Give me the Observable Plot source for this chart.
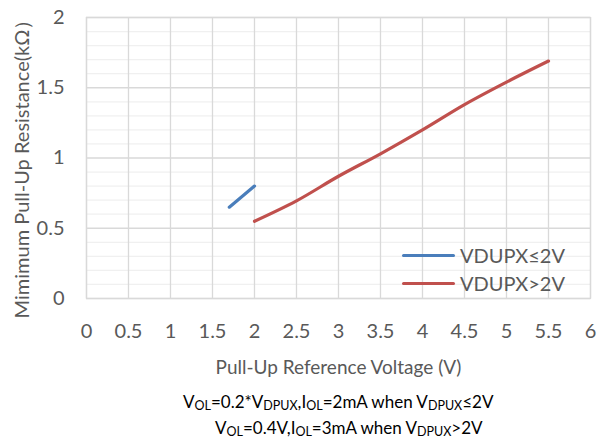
<!DOCTYPE html>
<html>
<head>
<meta charset="utf-8">
<script src="https://cdn.jsdelivr.net/npm/d3@7"></script>
<script src="https://cdn.jsdelivr.net/npm/@observablehq/plot@0.6"></script>
<style>
  html, body { margin: 0; padding: 0; background: #fff; }
  #wrap { position: relative; width: 600px; height: 442px; font-family: Lato, "Open Sans", sans-serif; }
  .legend { position: absolute; left: 402px; font-size: 20px; color: #595959; display: flex; align-items: center; white-space: nowrap; }
  .legend .sw { display: inline-block; width: 53px; height: 3px; border-radius: 2px; margin-right: 5px; }
  .note { position: absolute; font-size: 17px; color: #000; white-space: nowrap; }
  .note sub { font-size: 12.5px; vertical-align: baseline; position: relative; top: 2px; }
</style>
</head>
<body>
<div id="wrap"></div>
<script>
// Data
const blueX = [1.7, 2.0];
const blueY = [0.65, 0.80];
const redX = [2.0, 2.5, 3.0, 3.5, 4.0, 4.5, 5.0, 5.5];
const redY = [0.55, 0.695, 0.87, 1.03, 1.20, 1.38, 1.54, 1.69];
const seriesNames = ["VDUPX≤2V", "VDUPX>2V"];
const seriesColors = ["#4a7ebb", "#c0504d"];
const xTicks = [0, 0.5, 1, 1.5, 2, 2.5, 3, 3.5, 4, 4.5, 5, 5.5, 6];
const yTicks = [0, 0.5, 1, 1.5, 2];
const yMinor = [0.1, 0.2, 0.3, 0.4, 0.6, 0.7, 0.8, 0.9, 1.1, 1.2, 1.3, 1.4, 1.6, 1.7, 1.8, 1.9];
const xLabel = "Pull-Up Reference Voltage (V)";
const yLabel = "Mimimum Pull-Up Resistance(kΩ）";

const blue = blueX.map((x, i) => ({x, y: blueY[i]}));
const red = redX.map((x, i) => ({x, y: redY[i]}));

const chart = Plot.plot({
  width: 600,
  height: 385,
  marginLeft: 86,
  marginRight: 10,
  marginTop: 17,
  marginBottom: 87,
  style: {fontFamily: "Lato, 'Open Sans', sans-serif", background: "#fff", overflow: "visible"},
  x: {domain: [0, 6]},
  y: {domain: [0, 2]},
  marks: [
    Plot.ruleY(yMinor, {stroke: "#f0f0f0", strokeWidth: 1.3}),
    Plot.ruleY(yTicks, {stroke: "#d9d9d9", strokeWidth: 1.3}),
    Plot.ruleX(xTicks, {stroke: "#d9d9d9", strokeWidth: 1.3}),
    Plot.frame({stroke: "#d9d9d9", strokeWidth: 1.3}),
    Plot.axisX({ticks: xTicks, tickSize: 0, tickPadding: 25, fontSize: 20, color: "#595959", label: null, tickFormat: d => String(d)}),
    Plot.axisY({ticks: yTicks, tickSize: 0, tickPadding: 22, fontSize: 20, color: "#595959", label: null, tickFormat: d => String(d)}),
    Plot.line(blue, {x: "x", y: "y", stroke: seriesColors[0], strokeWidth: 3.2, strokeLinecap: "round"}),
    Plot.line(red, {x: "x", y: "y", stroke: seriesColors[1], strokeWidth: 3.2, strokeLinecap: "round", curve: "catmull-rom"}),
    Plot.text([xLabel], {text: d => d, frameAnchor: "bottom", textAnchor: "middle", dy: 69, fontSize: 19, fill: "#595959", lineAnchor: "middle"}),
    Plot.text([yLabel], {text: d => d, frameAnchor: "left", textAnchor: "middle", dx: -64, dy: 6, rotate: -90, fontSize: 20, fill: "#595959", lineAnchor: "middle"})
  ]
});

const wrap = document.getElementById("wrap");
wrap.appendChild(chart);

// Legend
const legendTops = [243, 271];
seriesNames.forEach((name, i) => {
  const d = document.createElement("div");
  d.className = "legend";
  d.style.top = legendTops[i] + "px";
  d.innerHTML = `<span class="sw" style="background:${seriesColors[i]}"></span><span>${name}</span>`;
  wrap.appendChild(d);
});

// Footnotes
const n1 = document.createElement("div");
n1.className = "note";
n1.style.left = "183px"; n1.style.top = "391px";
n1.innerHTML = "V<sub>OL</sub>=0.2*V<sub>DPUX</sub>,I<sub>OL</sub>=2mA when V<sub>DPUX</sub>≤2V";
wrap.appendChild(n1);
const n2 = document.createElement("div");
n2.className = "note";
n2.style.left = "215px"; n2.style.top = "417px";
n2.innerHTML = "V<sub>OL</sub>=0.4V,I<sub>OL</sub>=3mA when V<sub>DPUX</sub>>2V";
wrap.appendChild(n2);
</script>
</body>
</html>
